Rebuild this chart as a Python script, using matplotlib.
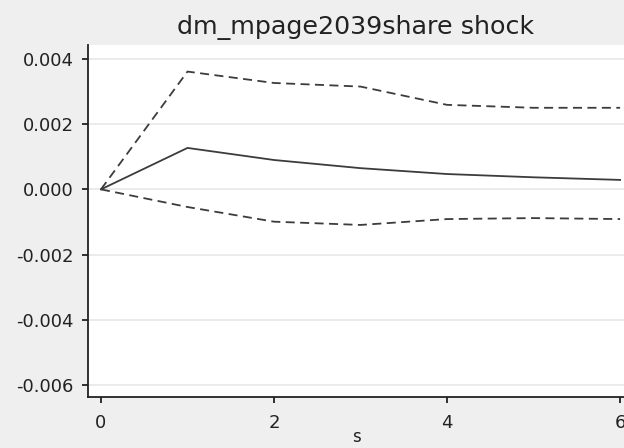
import numpy as np
import matplotlib
matplotlib.use("Agg")
import matplotlib.pyplot as plt

# impulse response
steps = [0, 1, 2, 3, 4, 5, 6]
irf = [0.0, 0.00127, 0.00090, 0.00065, 0.00047, 0.00037, 0.00029]
upper = [0.0, 0.00361, 0.00326, 0.00315, 0.00259, 0.00250, 0.00250]
lower = [0.0, -0.00054, -0.00099, -0.00109, -0.00091, -0.00088, -0.00091]
yticks = [0.004, 0.002, 0.0, -0.002, -0.004, -0.006]
xticks = [0, 2, 4, 6]

plt.rcParams['font.family'] = ['DejaVu Sans']

fig = plt.figure(figsize=(6.24, 4.48), dpi=100, facecolor='#efefef')
ax = fig.add_axes([0.141, 0.114, 0.859, 0.786])
ax.set_facecolor('white')

col = '#3c3c3c'
ax.plot(steps, irf, color=col, lw=1.3)
ax.plot(steps, upper, color=col, lw=1.3, linestyle=(0, (5, 3)))
ax.plot(steps, lower, color=col, lw=1.3, linestyle=(0, (5, 3)))

ax.set_xlim(-0.15, 6.045)
ax.set_ylim(-0.00636, 0.00443)
ax.set_yticks(yticks)
ax.set_yticklabels(['%.3f' % v for v in yticks])
ax.set_xticks(xticks)
ax.grid(axis='y', color='#e8e8e8', lw=1.2)
ax.set_axisbelow(True)

for side in ['top', 'right']:
    ax.spines[side].set_visible(False)
for side in ['left', 'bottom']:
    ax.spines[side].set_color('#222222')
    ax.spines[side].set_linewidth(1.3)
ax.tick_params(direction='out', length=4.3, width=1.3, color='#222222',
               labelsize=13, labelcolor='#222222', pad=6)
ax.tick_params(axis='x', pad=8)

ax.set_title('dm_mpage2039share shock', fontsize=18.3, color='#222222', pad=8)
ax.set_xlabel('s', fontsize=12, color='#222222', labelpad=-3)

fig.savefig('out.png', dpi=100, facecolor=fig.get_facecolor())
